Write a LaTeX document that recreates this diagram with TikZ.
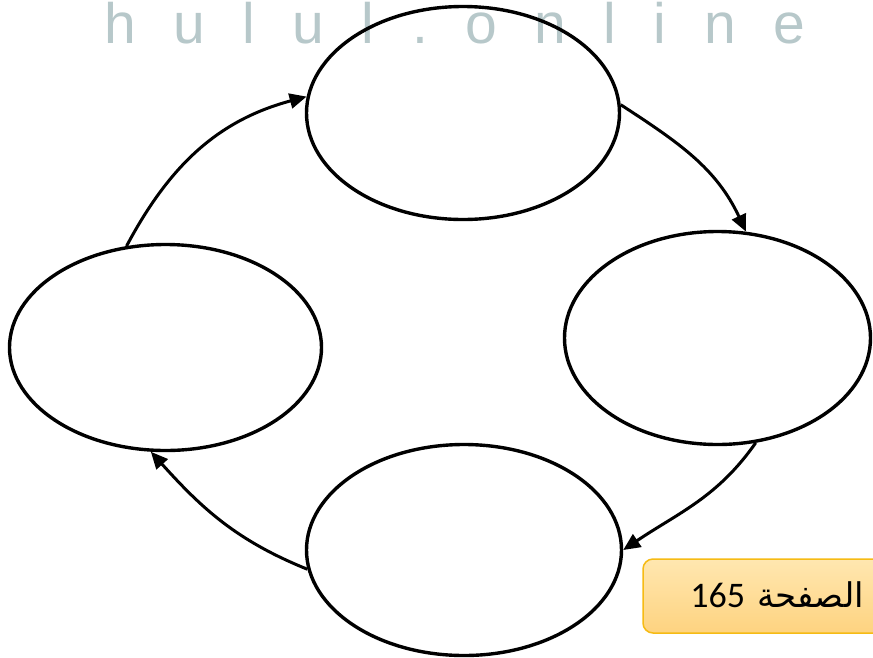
\documentclass[tikz,border=0pt]{standalone}
\usepackage{fontspec}
\usetikzlibrary{arrows.meta,shapes.geometric}
\TeXXeTstate=1
\newfontfamily\wmfont{Liberation Sans}
\newfontfamily\arabicfont[Script=Arabic]{DejaVu Sans}
\newfontfamily\digitfont{Carlito}
\definecolor{wmgray}{RGB}{183,200,202}
\definecolor{boxtop}{RGB}{255,231,176}
\definecolor{boxbottom}{RGB}{254,211,128}
\definecolor{boxedge}{RGB}{246,187,20}
\newcommand\wmgap{\hspace{37.5pt}}
\begin{document}
\begin{tikzpicture}[x=1pt,y=-1pt,
  bubble/.style={draw=black, line width=3.4pt, ellipse, inner sep=0pt},
  flow/.style={draw=black, line width=3pt, -{Triangle[length=17pt,width=15pt]}},
  pagebox/.style={draw=boxedge, line width=1.5pt, rounded corners=10pt, top color=boxtop, bottom color=boxbottom, rectangle, inner sep=0pt}
]
\useasboundingbox (0,0) rectangle (873,657);
\fill[white] (0,0) rectangle (873,657);
% watermark
\node[anchor=base west, text=wmgray, inner sep=0pt] (watermark) at (104,43)
  {\wmfont\fontsize{57}{57}\selectfont h\wmgap u\wmgap l\wmgap u\wmgap l\wmgap .\wmgap o\wmgap n\wmgap l\wmgap i\wmgap n\wmgap e};
% ellipses
\node[bubble, minimum width=313pt, minimum height=213pt] (T) at (463,113) {};
\node[bubble, minimum width=306pt, minimum height=213pt] (R) at (717.5,338) {};
\node[bubble, minimum width=312pt, minimum height=206pt] (L) at (165.5,347.5) {};
\node[bubble, minimum width=315pt, minimum height=211pt] (B) at (464,550) {};
% arrows
\draw[flow] (L.111.6) to[out=62, in=195] (T.174.6);
\draw[flow] (T.3.6) to[out=-33, in=115] (R.75.7);
\draw[flow] (R.290.3) to[out=235, in=34] (B.0);
\draw[flow] (B.187.3) to[out=158, in=-48] (L.262.6);
% page label
\node[pagebox, minimum width=250pt, minimum height=74pt] (pagebox) at (768,596) {};
\node[anchor=base east, inner sep=0pt] (pagelabel) at (864,607)
  {\beginR{\arabicfont\fontsize{34}{34}\selectfont الصفحة}\hspace{12pt}{\digitfont\fontsize{36}{36}\selectfont\beginL 165\endL}\endR};
\end{tikzpicture}
\end{document}
